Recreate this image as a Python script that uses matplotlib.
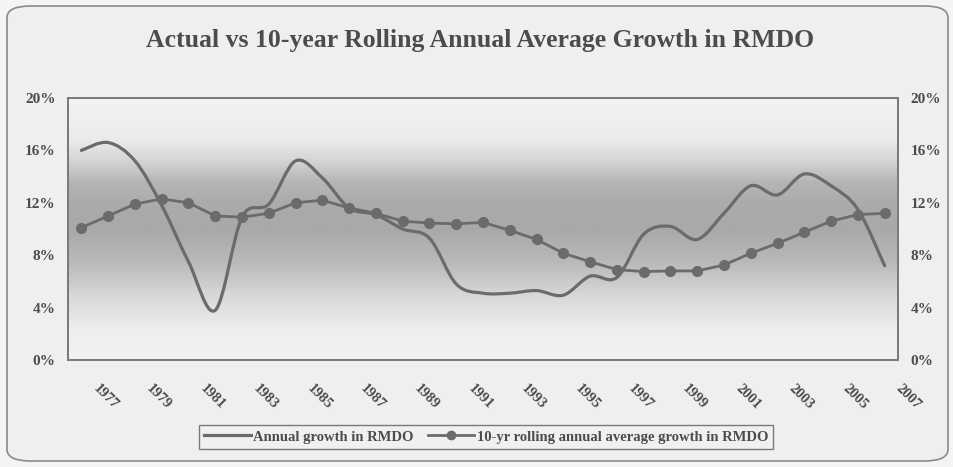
import numpy as np
import matplotlib
matplotlib.use("Agg")
import matplotlib.pyplot as plt
from matplotlib.path import Path
from matplotlib.patches import PathPatch, FancyBboxPatch
from matplotlib.lines import Line2D
from matplotlib.transforms import ScaledTranslation

# data (percent)
years = list(range(1977, 2008))
annual_growth = [16.0, 16.6, 15.2, 11.8, 7.5, 3.8, 10.9, 11.9, 15.2, 13.9,
                 11.6, 11.1, 10.0, 9.3, 5.8, 5.1, 5.1, 5.3, 4.95, 6.4,
                 6.3, 9.6, 10.2, 9.2, 11.2, 13.3, 12.6, 14.2, 13.3, 11.5, 7.2]
rolling_avg = [10.1, 11.0, 11.9, 12.3, 12.0, 11.0, 10.9, 11.2, 12.0, 12.2,
               11.6, 11.2, 10.6, 10.45, 10.4, 10.5, 9.9, 9.2, 8.15, 7.5,
               6.9, 6.75, 6.8, 6.8, 7.25, 8.15, 8.9, 9.75, 10.6, 11.1, 11.2]
y_ticks = [0, 4, 8, 12, 16, 20]
x_labels = [str(y) for y in years[::2]]

title = "Actual vs 10-year Rolling Annual Average Growth in RMDO"
label_annual = "Annual growth in RMDO"
label_rolling = "10-yr rolling annual average growth in RMDO"

line_col = "#6b6b6b"
text_col = "#4c4c4c"
serif = ["Liberation Serif", "DejaVu Serif"]


def smooth_path(xs, ys):
    # excel-like smoothed line: cubic bezier through every point
    pts = np.column_stack([xs, ys]).astype(float)
    n = len(pts)
    verts = [tuple(pts[0])]
    codes = [Path.MOVETO]
    for i in range(n - 1):
        p0 = pts[max(i - 1, 0)]
        p1 = pts[i]
        p2 = pts[i + 1]
        p3 = pts[min(i + 2, n - 1)]
        c1 = p1 + (p2 - p0) / 6.0
        c2 = p2 - (p3 - p1) / 6.0
        verts += [tuple(c1), tuple(c2), tuple(p2)]
        codes += [Path.CURVE4] * 3
    return Path(verts, codes)


fig = plt.figure(figsize=(9.54, 4.67), dpi=100, facecolor="#f4f4f4")

# outer rounded frame
frame = FancyBboxPatch((7 / 954, 6 / 467), 941 / 954, 455 / 467,
                       boxstyle="round,pad=0,rounding_size=0.025",
                       transform=fig.transFigure, facecolor="#efefef",
                       edgecolor="#8a8a8a", lw=1.2, zorder=-10)
fig.patches.append(frame)

ax = fig.add_axes([68 / 954, 1 - 360 / 467, 830 / 954, 262 / 467])
ax.set_facecolor("#f0f0f0")

# gray band behind the lines
yy = np.linspace(0, 1, 300)
shade = np.interp(yy, [0.0, 0.12, 0.25, 0.38, 0.5, 0.6, 0.68, 0.76, 0.84, 1.0],
                  [0.95, 0.93, 0.84, 0.72, 0.66, 0.67, 0.71, 0.83, 0.92, 0.95])
img = np.repeat(shade[:, None], 10, axis=1)
ax.imshow(img, cmap="gray", vmin=0, vmax=1, origin="lower", aspect="auto",
          extent=(0, 1, 0, 1), transform=ax.transAxes, zorder=0)

x = np.arange(len(years))
ax.add_patch(PathPatch(smooth_path(x, annual_growth), fill=False,
                       edgecolor=line_col, lw=2.3, capstyle="round",
                       joinstyle="round", zorder=3))
ax.plot(x, rolling_avg, color=line_col, lw=2.0, marker="o", markersize=7,
        markeredgecolor=line_col, zorder=4)

ax.set_xlim(-0.5, len(years) - 0.5)
ax.set_ylim(0, 20)
ax.set_yticks(y_ticks)
ax.set_yticklabels([f"{v}%" for v in y_ticks])
ax.set_xticks(x[::2])
ax.set_xticklabels(x_labels, rotation=-45, ha="left", va="top",
                   rotation_mode="default")
ax.tick_params(axis="x", length=0, pad=16, labelsize=10.5, colors=text_col)
ax.tick_params(axis="y", length=0, pad=9, labelsize=11, colors=text_col)
for lab in ax.get_xticklabels():
    lab.set_fontfamily(serif)
    lab.set_fontweight("bold")
    lab.set_transform(lab.get_transform() +
                      ScaledTranslation(9 / 100, 0, fig.dpi_scale_trans))
for lab in ax.get_yticklabels():
    lab.set_fontfamily(serif)
    lab.set_fontweight("bold")
for s in ax.spines.values():
    s.set_color("#7a7a7a")
    s.set_linewidth(1.3)

ax2 = ax.twinx()
ax2.set_ylim(0, 20)
ax2.set_yticks(y_ticks)
ax2.set_yticklabels([f"{v}%" for v in y_ticks])
ax2.tick_params(axis="y", length=0, pad=9, labelsize=11, colors=text_col)
for lab in ax2.get_yticklabels():
    lab.set_fontfamily(serif)
    lab.set_fontweight("bold")
for s in ax2.spines.values():
    s.set_color("#7a7a7a")
    s.set_linewidth(1.3)

fig.text(0.503, 1 - 41 / 467, title, ha="center", va="center",
         fontsize=18.5, fontweight="bold", family=serif, color=text_col)

handles = [Line2D([], [], color=line_col, lw=2.3),
           Line2D([], [], color=line_col, lw=2.0, marker="o", markersize=6)]
leg = fig.legend(handles, [label_annual, label_rolling], loc="center",
                 bbox_to_anchor=(486 / 954, 1 - 437 / 467), ncol=2,
                 frameon=True, fancybox=False, edgecolor="#7a7a7a",
                 facecolor="#f0f0f0", framealpha=1, handlelength=3.2,
                 handletextpad=0.15, columnspacing=1.0, borderpad=0.35,
                 prop={"family": serif, "weight": "bold", "size": 10.5})
leg.get_frame().set_linewidth(1.0)
for t in leg.get_texts():
    t.set_color(text_col)

fig.savefig("out.png", dpi=100, facecolor=fig.get_facecolor())
